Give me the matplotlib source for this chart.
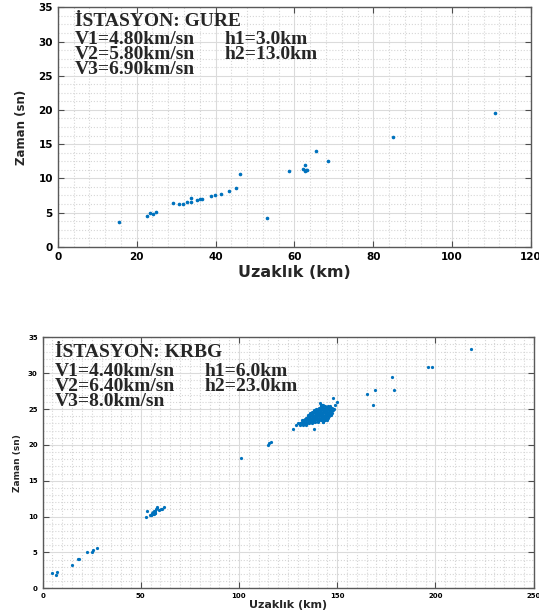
import numpy as np
import matplotlib
matplotlib.use("Agg")
import matplotlib.pyplot as plt
from matplotlib.ticker import MultipleLocator

# GURE istasyonu: uzaklik (km), zaman (sn)
gure_x = [15.5, 22.6, 23.4, 24.1, 24.9, 29.2, 30.7, 31.7, 32.7, 33.8, 33.8, 35.4, 36.0, 36.5,
          38.8, 39.9, 41.4, 43.3, 45.3, 46.3, 53.1, 58.7, 62.3, 62.8, 62.7, 63.0, 63.2, 65.6,
          68.5, 85.0, 110.8]
gure_y = [3.57, 4.53, 4.88, 4.83, 5.02, 6.34, 6.20, 6.24, 6.49, 7.17, 6.58, 6.83, 6.92, 7.02,
          7.46, 7.56, 7.70, 8.14, 8.53, 10.63, 4.15, 11.10, 11.30, 11.90, 11.00, 11.20, 11.25, 14.00,
          12.50, 16.10, 19.50]

# KRBG istasyonu: dagilmis noktalar
krbg_x = [4.6, 6.8, 7.2, 14.8, 18.2, 18.5, 22.8, 25.2, 25.8, 27.5,
          52.5, 53.3, 54.7, 55.2, 55.5, 56.0, 56.4, 56.7, 57.1, 57.4, 57.7, 58.1, 58.4, 59.4,
          60.1, 60.8, 61.6, 55.8, 56.2, 57.0, 56.6, 55.0, 56.8,
          101.0, 114.8, 115.4, 116.2,
          165.2, 169.2, 168.1, 179.1, 178.1, 196.1, 198.1, 218.1,
          127.3, 129.0, 130.2, 131.9, 138.3, 148.0, 149.7, 148.9, 146.4, 142.1, 141.2, 135.3,
          144.6, 142.9, 133.6, 146.3, 145.5]
krbg_y = [2.2, 1.85, 2.3, 3.3, 4.15, 4.05, 5.06, 5.06, 5.34, 5.62,
          9.9, 10.78, 10.27, 10.18, 10.46, 10.32, 10.55, 10.69, 10.46, 10.83, 11.0, 11.38, 11.15, 10.92,
          11.1, 11.0, 11.38, 10.4, 10.6, 10.5, 10.4, 10.2, 10.75,
          18.2, 20.0, 20.3, 20.45,
          27.05, 27.6, 25.6, 27.7, 29.5, 30.8, 30.9, 33.4,
          22.2, 22.8, 23.0, 23.4, 22.2, 26.5, 26.0, 25.6, 25.3, 25.6, 25.8, 24.2,
          23.5, 23.2, 23.0, 24.9, 25.3]

# KRBG yogun kume (satir satir okunan noktalar)
kume_y = [22.8, 23.0, 23.2, 23.4, 23.6, 23.8, 24.0, 24.2, 24.4, 24.6, 24.8, 25.0, 25.2, 25.4, 25.6]
kume_x = [
    [131.2, 132.6, 133.9],
    [131.0, 132.3, 133.5, 134.6, 135.8, 137.0],
    [131.9, 133.1, 134.2, 135.4, 136.5, 137.7, 138.9, 140.1, 142.8],
    [132.8, 133.9, 135.0, 136.2, 137.3, 138.4, 139.6, 140.8, 141.9, 143.6],
    [133.4, 134.6, 135.7, 136.8, 137.9, 139.1, 140.2, 141.4, 142.6, 143.5, 144.4],
    [134.0, 135.2, 136.3, 137.5, 138.6, 139.8, 140.9, 142.1, 143.2, 144.3, 145.2],
    [134.9, 136.0, 137.2, 138.3, 139.4, 140.6, 141.7, 142.9, 144.0, 145.1, 146.0],
    [135.4, 136.6, 137.8, 139.0, 140.1, 141.3, 142.5, 143.6, 144.7, 145.8, 146.6],
    [136.2, 137.4, 138.5, 139.6, 140.8, 141.9, 143.0, 144.2, 145.3, 146.4, 147.2],
    [137.0, 138.2, 139.3, 140.4, 141.6, 142.7, 143.8, 145.0, 146.1, 147.0],
    [138.0, 139.2, 140.3, 141.4, 142.6, 143.7, 144.8, 146.0, 147.1, 148.0],
    [139.0, 140.2, 141.4, 142.5, 143.7, 144.8, 146.0, 147.1, 148.2],
    [140.5, 141.7, 142.9, 144.1, 145.3, 146.5, 147.6],
    [141.5, 142.8, 144.0, 145.2, 146.5],
    [141.5, 142.8],
]

blue = "#0072BD"


def style_axes(ax, xmax, xmajor, xminor, ymajor, yminor, tick_fs):
    ax.set_xlim(0, xmax)
    ax.set_ylim(0, 35)
    ax.xaxis.set_major_locator(MultipleLocator(xmajor))
    ax.xaxis.set_minor_locator(MultipleLocator(xminor))
    ax.yaxis.set_major_locator(MultipleLocator(ymajor))
    ax.yaxis.set_minor_locator(MultipleLocator(yminor))
    ax.grid(which="major", color="0.86", linestyle="-", linewidth=0.8)
    ax.grid(which="minor", color="0.84", linestyle=":", linewidth=0.8)
    ax.set_axisbelow(True)
    ax.tick_params(which="both", direction="in", top=True, right=True, color="0.3",
                   labelsize=tick_fs, width=0.8)
    ax.tick_params(which="major", length=4)
    ax.tick_params(which="minor", length=0)
    for lab in ax.get_xticklabels() + ax.get_yticklabels():
        lab.set_fontweight("bold")
    for s in ax.spines.values():
        s.set_color("0.35")
        s.set_linewidth(1.0)


def info_text(ax, name, v1, v2, v3, h1, h2, xs, ys):
    kw = dict(transform=ax.transAxes, family="Liberation Serif", fontweight="bold",
              fontsize=14, color="0.15", va="baseline")
    ax.text(xs[0], ys[0], "İSTASYON: " + name, **kw)
    ax.text(xs[0], ys[1], "V1=" + v1 + "km/sn", **kw)
    ax.text(xs[0], ys[2], "V2=" + v2 + "km/sn", **kw)
    ax.text(xs[0], ys[3], "V3=" + v3 + "km/sn", **kw)
    ax.text(xs[1], ys[1], "h1=" + h1 + "km", **kw)
    ax.text(xs[1], ys[2], "h2=" + h2 + "km", **kw)


fig = plt.figure(figsize=(5.39, 6.16), dpi=100)

# ust panel - GURE
ax1 = fig.add_axes([0.1072, 0.5995, 0.878, 0.3886])
ax1.plot(gure_x, gure_y, ".", color=blue, ms=3.2)
style_axes(ax1, 120, 20, 4, 5, 1.25, 7.5)
ax1.set_xlabel("Uzaklık (km)", fontsize=11.5, fontweight="bold", color="0.15")
ax1.set_ylabel("Zaman (sn)", fontsize=8.5, fontweight="bold", color="0.15")
ax1.xaxis.set_label_coords(0.5, -0.075)
ax1.yaxis.set_label_coords(-0.062, 0.5)
info_text(ax1, "GURE", "4.80", "5.80", "6.90", "3.0", "13.0",
          [0.036, 0.353], [0.922, 0.847, 0.783, 0.72])

# alt panel - KRBG
ax2 = fig.add_axes([0.079, 0.045, 0.911, 0.4074])
cx = [x for row in kume_x for x in row]
cy = [y for y, row in zip(kume_y, kume_x) for _ in row]
ax2.plot(krbg_x + cx, krbg_y + cy, ".", color=blue, ms=2.6)
style_axes(ax2, 250, 50, 5, 5, 1, 5)
ax2.set_xlabel("Uzaklık (km)", fontsize=8, fontweight="bold", color="0.15")
ax2.set_ylabel("Zaman (sn)", fontsize=6.5, fontweight="bold", color="0.15")
ax2.xaxis.set_label_coords(0.5, -0.045)
ax2.yaxis.set_label_coords(-0.042, 0.5)
info_text(ax2, "KRBG", "4.40", "6.40", "8.0", "6.0", "23.0",
          [0.025, 0.33], [0.9215, 0.847, 0.786, 0.726])

fig.savefig("out.png", dpi=100)
